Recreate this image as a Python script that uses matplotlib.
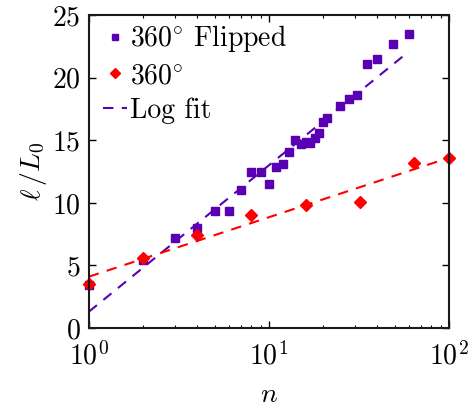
import numpy as np
import matplotlib.pyplot as plt

plt.rcParams['font.family'] = 'serif'
plt.rcParams['font.serif'] = ['cmr10']
plt.rcParams['mathtext.fontset'] = 'cm'
plt.rcParams['axes.formatter.use_mathtext'] = True

purple = '#5a00b4'
red = '#ff0000'

# 360 Flipped data
n_flip = [1, 2, 3, 4, 5, 6, 7, 8, 9, 10, 11, 12, 13, 14, 15, 16, 17, 18, 19,
          20, 21, 25, 28, 31, 35, 40, 49, 60]
l_flip = [3.4, 5.4, 7.2, 8.0, 9.35, 9.35, 11.0, 12.5, 12.5, 11.5, 12.9, 13.1,
          14.1, 15.0, 14.7, 14.9, 14.8, 15.2, 15.6, 16.5, 16.8, 17.7, 18.3,
          18.6, 21.1, 21.5, 22.7, 23.5]

# 360 data
n_360 = [1, 2, 4, 8, 16, 32, 64, 100]
l_360 = [3.5, 5.6, 7.4, 9.0, 9.8, 10.1, 13.2, 13.6]

# log fit endpoints
fit_flip_n = [1, 60]
fit_flip_l = [1.3, 22.1]
fit_360_n = [1, 100]
fit_360_l = [4.1, 13.6]

fig = plt.figure(figsize=(4.7, 4.09), dpi=100)
ax = fig.add_axes([0.189, 0.198, 0.766, 0.765])

ax.plot(n_flip, l_flip, 's', color=purple, markersize=6, clip_on=False,
        label=r'$360^{\circ}$ Flipped')
ax.plot(n_360, l_360, 'D', color=red, markersize=6.5, clip_on=False,
        label=r'$360^{\circ}$')
ax.plot(fit_flip_n, fit_flip_l, '--', color=purple, lw=1.5, dashes=(5, 4),
        label='Log fit')
ax.plot(fit_360_n, fit_360_l, '--', color=red, lw=1.5, dashes=(5, 4))

ax.set_xscale('log')
ax.set_xlim(1, 100)
ax.set_ylim(0, 25)
ax.set_yticks([0, 5, 10, 15, 20, 25])
ax.tick_params(which='both', direction='in', top=True, right=True, labelsize=20)
ax.tick_params(which='major', length=5, width=1)
ax.tick_params(which='minor', length=2.5, width=0.8)
ax.tick_params(axis='x', which='major', pad=10)
ax.tick_params(axis='y', which='major', pad=6)
for s in ax.spines.values():
    s.set_linewidth(1.5)
    s.set_color('#1a1a1a')

ax.set_xlabel(r'$n$', fontsize=20, labelpad=8)
ax.set_ylabel(r'$\ell\,/L_0$', fontsize=20, labelpad=2)

ax.legend(loc='upper left', bbox_to_anchor=(0.016, 1.0), frameon=False,
          fontsize=20, handlelength=0.85, handletextpad=0.12,
          labelspacing=0.3, borderaxespad=0.1, borderpad=0.2,
          markerscale=0.75)

fig.savefig('out.png', dpi=100)
